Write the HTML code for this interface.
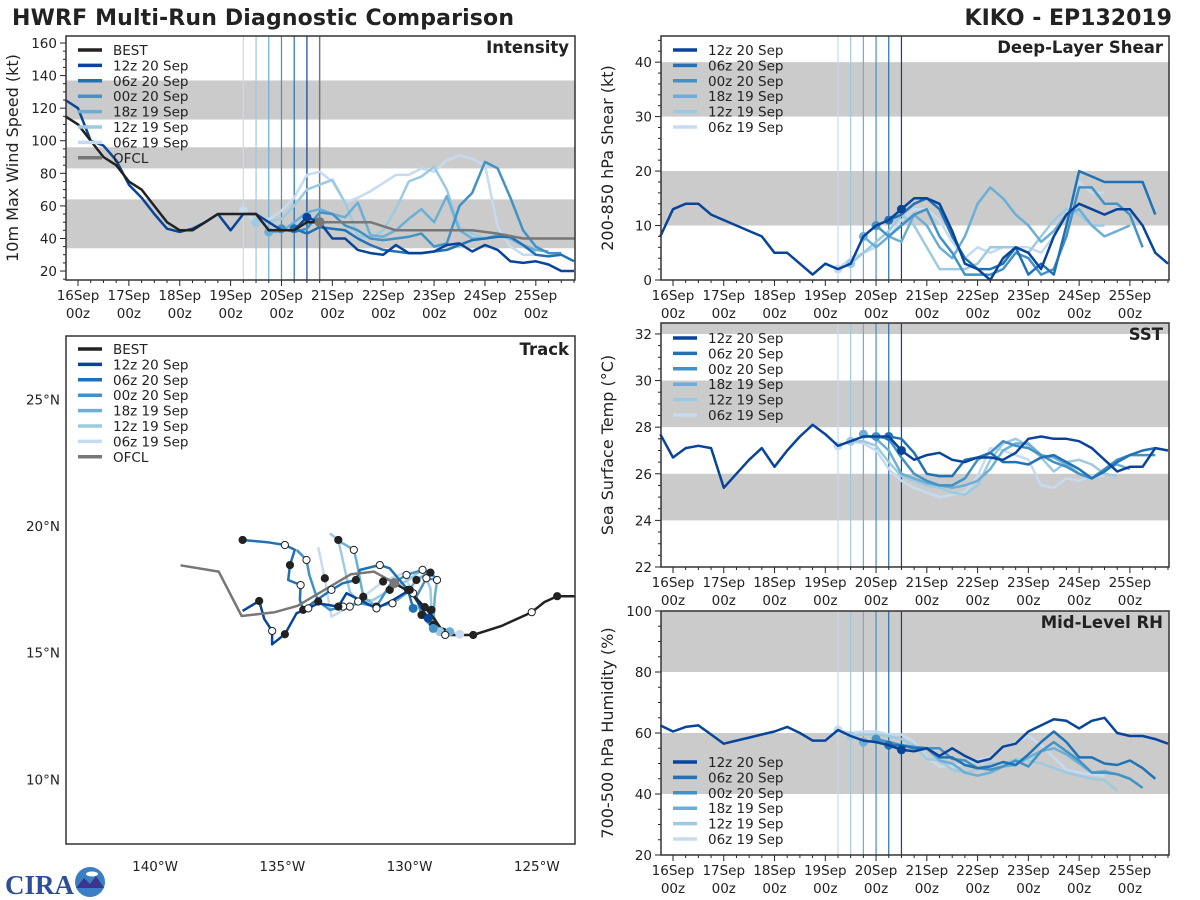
<!DOCTYPE html>
<html><head><meta charset="utf-8"><title>HWRF Multi-Run Diagnostic Comparison</title>
<style>
html,body{margin:0;padding:0;background:#fff;}
svg{display:block;font-family:"DejaVu Sans","Liberation Sans",sans-serif;}
</style></head>
<body>
<svg id="fig" xmlns="http://www.w3.org/2000/svg" width="1200" height="900" viewBox="0 0 1200 900">
<rect x="0" y="0" width="1200" height="900" fill="#fff"/>
<text x="12" y="25" font-size="22" font-weight="bold" fill="#222" textLength="502">HWRF Multi-Run Diagnostic Comparison</text>
<text x="1172" y="25" font-size="22" font-weight="bold" fill="#222" text-anchor="end">KIKO - EP132019</text>
<g>
<text x="5" y="894" font-size="27" font-weight="bold" fill="#2d4f9a" font-family="Liberation Serif, serif">CIRA</text>
<circle cx="90" cy="882" r="15" fill="#3a7fc4"/>
<path d="M76 888 L84 878 L90 884 L96 876 L104 888 Z" fill="#3b3590"/>
<ellipse cx="92" cy="874" rx="6" ry="2.5" fill="#fff"/>
</g>
</svg>
<script>
// ---------- shared data ----------
const runNames = ['12z 20 Sep','06z 20 Sep','00z 20 Sep','18z 19 Sep','12z 19 Sep','06z 19 Sep'];
const runColors = ['#08459a','#2171b5','#4292c6','#6baed6','#9ecae1','#c6dbef'];
const runInit = [4.5,4.25,4.0,3.75,3.5,3.25];
const runStart = [-0.25,4.25,4.0,3.75,3.5,3.25];
const dayTickLabels = ['16Sep','17Sep','18Sep','19Sep','20Sep','21Sep','22Sep','23Sep','24Sep','25Sep'];

// Intensity (kt), 6-hourly from runStart
const intRun0 = [125,120,100,97,88,73,65,55,46,44,46,50,55,45,55,55,50,45,45,53,50,40,40,33,31,30,36,31,31,32,36,37,32,36,33,26,25,26,24,20,20];
const intRun1 = [46,43,47,46,45,40,36,33,32,31,31,32,33,36,39,40,41,41,36,30,29,30,26];
const intRun2 = [46,44,46,56,55,48,45,40,39,40,41,43,35,37,60,68,87,83,65,45,35,31,31];
const intRun3 = [44,44,50,56,58,55,53,62,42,41,45,52,58,50,66,45,40,40,42,40,36,33,32];
const intRun4 = [50,50,52,60,70,73,76,62,42,40,45,58,75,78,84,70,47,43,40,42,40,35,32];
const intRun5 = [57,50,52,57,65,79,81,75,62,65,69,74,79,79,83,81,88,91,89,85,47,35,30,30];
const intBest = [115,110,100,90,85,75,70,60,50,45,45,50,55,55,55,55,45,45,45,50,50];
const ofclDays = [4.75,5.75,6.25,7.75,8.25,8.75,9.77];
const ofclVals = [50,50,45,45,43,40,40];

// Shear (kt)
const shrRun0 = [8,13,14,14,12,11,10,9,8,5,5,3,1,3,2,3,8,10,11,13,15,15,14,9,3,2,0,4,6,5,2,8,12,14,13,12,13,13,10,5,3];
const shrRun1 = [11,12,14,15,13,8,4,2,2,3,6,1,3,1,10,20,19,18,18,18,18,12];
const shrRun2 = [10,8,10,12,13,8,5,1,1,1,2,5,4,1,2,8,17,17,14,14,12,6];
const shrRun3 = [8,6,8,7,12,10,6,4,8,14,17,15,12,10,7,9,12,13,10,8,9,10];
const shrRun4 = [3,5,7,9,12,10,6,2,2,2,3,6,6,6,5,8,11,13,12,10,10];
const shrRun5 = [2,4,5,6,8,11,13,13,11,7,4,6,5,6,6,6,5,8,12,18,16,16];

// SST (C)
const sstRun0 = [27.7,26.7,27.1,27.2,27.1,25.4,26.0,26.6,27.1,26.3,27.0,27.6,28.1,27.7,27.2,27.4,27.6,27.6,27.6,27.0,26.6,26.8,26.9,26.6,26.5,26.7,26.7,26.6,26.9,27.5,27.6,27.5,27.5,27.4,27.1,26.6,26.1,26.3,26.3,27.1,27.0];
const sstRun1 = [27.6,27.5,26.9,26.0,25.9,25.9,26.6,26.7,26.9,26.5,26.5,26.4,26.7,26.8,26.5,26.2,25.8,26.1,26.5,26.8,27.0,27.1];
const sstRun2 = [27.6,27.5,26.7,26.0,25.7,25.5,25.5,25.8,26.6,26.9,27.4,27.2,27.1,26.8,26.5,26.3,26.0,25.8,26.2,26.6,26.8,26.8,26.8];
const sstRun3 = [27.7,27.5,27.0,26.0,25.8,25.6,25.5,25.4,25.5,25.7,26.2,27.0,27.3,27.3,26.8,26.7,26.4,26.0,25.8,26.2,26.4,26.2];
const sstRun4 = [27.4,27.4,27.2,26.5,25.9,25.7,25.5,25.4,25.2,25.1,25.5,26.6,27.3,27.5,27.2,26.7,26.1,26.5,26.6,26.4,26.0,25.9];
const sstRun5 = [27.2,27.4,27.3,27.0,26.2,25.7,25.4,25.2,25.0,25.1,25.2,25.9,27.1,27.0,26.8,26.6,25.5,25.4,25.8,25.7,25.9,25.9];

// Mid-level RH (%)
const rhRun0 = [62.5,60.5,62,62.5,59.5,56.5,57.5,58.5,59.5,60.5,62,60,57.5,57.5,61,59,57.5,57,56,54.5,54,55,52.5,55,52.5,50.5,51.5,55.5,56.5,60.5,62.5,64.5,64,61.5,64,65,60,59,59,58,56.5];
const rhRun1 = [56,56,55,55,52,52,49.5,48.5,49,50.5,49.5,53,57,60.5,57,52,52,50,49.5,51,48.5,45];
const rhRun2 = [58,57,56,55.5,55,55,51.5,51,48.5,48,49,51,49,54,57,54,51,47,47,46.5,45,42];
const rhRun3 = [57,57.5,57,56,55,55,51,50,47,46,47,49,49.5,52,54,55,53,50,47,47.5,46.5,45];
const rhRun4 = [59,59.5,59.5,59,58,56,51.5,51,48,47,48,50,50,51.5,51,50,48.5,47,46,45,44.5,41];
const rhRun5 = [61,60,60.5,60.5,59.5,59.5,57,52,49,49,50,51,52,55,57,59,56,52,48,47,46.5,46];

// Tracks (lon deg E negative, lat deg N)
const bestLon = [-123.5,-124.2,-124.7,-125.2,-126.4,-127.5,-128.0,-128.6,-129.0,-129.4,-130.0,-130.6];
const bestLat = [17.23,17.23,17.0,16.6,16.05,15.7,15.7,15.7,16.3,16.8,17.4,17.75];
const trkLon0 = [-129.27,-129.99,-130.64,-131.30,-132.48,-132.80,-133.59,-133.98,-134.44,-134.90,-135.40,-135.40,-135.71,-135.91,-136.56];
const trkLat0 = [16.36,17.48,17.08,16.75,17.35,16.82,16.95,16.75,16.56,15.73,15.33,15.86,16.33,17.04,16.65];
const trkLon1 = [-129.86,-130.06,-130.78,-131.17,-131.95,-132.11,-132.63,-133.07,-133.65,-134.18,-134.31,-134.28,-134.77,-134.70,-134.51,-134.90,-135.59,-136.56];
const trkLat1 = [16.75,17.48,18.33,18.46,18.27,17.87,17.74,17.48,17.08,16.69,17.08,17.67,17.87,18.46,19.06,19.25,19.36,19.45];
const trkLon2 = [-129.07,-129.53,-129.73,-129.34,-128.92,-129.18,-129.49,-130.12,-130.78,-131.30,-131.95,-132.61,-133.13,-133.59,-133.94,-134.05,-134.44];
const trkLat2 = [15.96,16.49,17.21,17.94,17.87,18.16,18.27,18.07,17.67,16.82,16.95,16.82,16.69,17.02,18.07,18.66,19.06];
const trkLon3 = [-128.42,-129.07,-129.01,-128.92,-129.20,-129.73,-130.12,-130.67,-131.30,-131.82,-132.08,-132.19,-132.80];
const trkLat3 = [15.83,16.10,17.21,17.87,18.20,17.87,17.35,16.95,16.82,17.21,18.60,19.06,19.42];
const trkLon4 = [-128.81,-129.14,-129.18,-129.49,-130.06,-130.78,-131.43,-132.02,-132.35,-132.80,-133.13];
const trkLat4 = [15.83,16.69,17.54,18.27,17.87,17.48,17.08,17.02,17.41,19.45,19.71];
const trkLon5 = [-128.03,-128.68,-129.34,-129.86,-130.25,-131.04,-131.82,-132.35,-133.07,-133.33,-133.59];
const trkLat5 = [15.73,15.83,16.69,17.35,18.14,17.81,17.21,16.82,16.42,17.94,19.16];
const ofclLon = [-130.6,-131.4,-132.3,-134.4,-135.3,-136.6,-137.5,-139.0];
const ofclLat = [17.75,18.2,18.1,16.85,16.6,16.45,18.2,18.45];
const trkLonTicks = [-140,-135,-130,-125];
const trkLonLabels = ['140°W','135°W','130°W','125°W'];
const trkLatTicks = [10,15,20,25];
const trkLatLabels = ['10°N','15°N','20°N','25°N'];

// ---------- drawing ----------
const NS='http://www.w3.org/2000/svg';
const svg=document.getElementById('fig');
function mk(tag,attrs,parent){const e=document.createElementNS(NS,tag);for(const k in attrs)e.setAttribute(k,attrs[k]);(parent||svg).appendChild(e);return e;}
const XMIN=-0.236, XMAX=9.77;

function timePanel(p){
  const g=mk('g',{});
  
  
  const sx=d=>p.x0+(d-XMIN)/(XMAX-XMIN)*(p.x1-p.x0);
  const sy=v=>p.y1-(v-p.ymin)/(p.ymax-p.ymin)*(p.y1-p.y0);
  p.bands.forEach(b=>{
    const r=mk('rect',{x:p.x0,y:sy(b[1]),width:p.x1-p.x0,height:sy(b[0])-sy(b[1]),fill:'#cbcbcb'},g);
    
    
  });
  for(let i=5;i>=0;i--){
    const l=mk('line',{x1:sx(runInit[i]),x2:sx(runInit[i]),y1:p.y0,y2:p.y1,stroke:runColors[i],'stroke-width':1.2},g);
    
    
  }
  if(p.ofcl){
    const l=mk('line',{x1:sx(4.75),x2:sx(4.75),y1:p.y0,y2:p.y1,stroke:'#777','stroke-width':1.5},g);
    
    
  }
  for(let d=-0.25;d<=XMAX;d+=0.25){
    if(d<XMIN)continue;
    const major=Math.abs(d-Math.round(d))<1e-6;
    mk('line',{x1:sx(d),x2:sx(d),y1:p.y1,y2:p.y1+(major?6:3),stroke:'#222','stroke-width':1},g);
    if(major){
      const t=mk('text',{x:sx(d),y:p.y1+20,'font-size':13.5,'text-anchor':'middle',fill:'#222'},g);
      t.textContent=dayTickLabels[Math.round(d)];
      
      
      const t2=mk('text',{x:sx(d),y:p.y1+38,'font-size':13.5,'text-anchor':'middle',fill:'#222'},g);
      t2.textContent='00z';
      
      
    }
  }
  const nStart=Math.ceil(p.ymin/p.minor-1e-9), nEnd=Math.floor(p.ymax/p.minor+1e-9);
  for(let n=nStart;n<=nEnd;n++){
    const v=n*p.minor;
    const q=(v-p.tick0)/p.major;
    const major=Math.abs(q-Math.round(q))<1e-6 && v>=p.tick0-1e-9;
    mk('line',{x1:p.x0,x2:p.x0-(major?6:3),y1:sy(v),y2:sy(v),stroke:'#222','stroke-width':1},g);
    if(major){
      const t=mk('text',{x:p.x0-9,y:sy(v)+5,'font-size':13.5,'text-anchor':'end',fill:'#222'},g);
      t.textContent=String(Math.round(v*10)/10);
      
      
    }
  }
  const yl=mk('text',{x:0,y:0,'font-size':16,'text-anchor':'middle',fill:'#222',transform:`translate(${p.x0-48},${(p.y0+p.y1)/2}) rotate(-90)`},g);
  yl.textContent=p.ylabel;
  
  
  for(let i=5;i>=0;i--){
    const vals=p.series[i];
    const pts=vals.map((v,k)=>sx(runStart[i]+k*0.25).toFixed(1)+','+sy(v).toFixed(1)).join(' ');
    const pl=mk('polyline',{points:pts,fill:'none',stroke:runColors[i],'stroke-width':2.5,'stroke-linejoin':'round'},g);
    
    
    const k=Math.round((runInit[i]-runStart[i])/0.25);
    const c=mk('circle',{cx:sx(runInit[i]),cy:sy(vals[k]),r:4.5,fill:runColors[i]},g);
    
    
  }
  if(p.best){
    const pts=p.best.map((v,k)=>sx(-0.25+k*0.25).toFixed(1)+','+sy(v).toFixed(1)).join(' ');
    const pl=mk('polyline',{points:pts,fill:'none',stroke:'#222','stroke-width':2.5},g);
    
    
  }
  if(p.ofcl){
    const pts=ofclDays.map((d,k)=>sx(d).toFixed(1)+','+sy(ofclVals[k]).toFixed(1)).join(' ');
    const pl=mk('polyline',{points:pts,fill:'none',stroke:'#777','stroke-width':2.5},g);
    
    
    const c=mk('circle',{cx:sx(ofclDays[0]),cy:sy(ofclVals[0]),r:5,fill:'#777'},g);
    
    
  }
  const fr=mk('rect',{x:p.x0,y:p.y0,width:p.x1-p.x0,height:p.y1-p.y0,fill:'none',stroke:'#333','stroke-width':1.5},g);
  
  
  const tt=mk('text',{x:p.x1-6,y:p.y0+17,'font-size':16.5,'font-weight':'bold','text-anchor':'end',fill:'#222'},g);
  tt.textContent=p.title;
  
  
  legend(g,p.x0+12,p.legY,p.best?true:false,p.ofcl?true:false);
}

function legend(g,x,y,best,ofcl){
  const names=[],cols=[];
  if(best){names.push('BEST');cols.push('#222');}
  runNames.forEach((n,i)=>{names.push(n);cols.push(runColors[i]);});
  if(ofcl){names.push('OFCL');cols.push('#777');}
  const lg=mk('g',{},g);
  
  
  names.forEach((n,i)=>{
    const yy=y+i*15.4;
    const l=mk('line',{x1:x,x2:x+24,y1:yy,y2:yy,stroke:cols[i],'stroke-width':3.5},lg);
    
    
    const t=mk('text',{x:x+35,y:yy+5,'font-size':13.5,fill:'#222'},lg);
    t.textContent=n;
    
    
  });
}

timePanel({name:'intensity-panel',title:'Intensity',x0:66,x1:575,y0:36,y1:280,ymin:14.5,ymax:164.3,tick0:20,major:20,minor:5,
  ylabel:'10m Max Wind Speed (kt)',bands:[[34,64],[83,96],[113,137]],
  series:[intRun0,intRun1,intRun2,intRun3,intRun4,intRun5],best:intBest,ofcl:true,legY:50});
timePanel({name:'shear-panel',title:'Deep-Layer Shear',x0:661,x1:1169,y0:36,y1:280,ymin:0,ymax:44.8,tick0:0,major:10,minor:2,
  ylabel:'200-850 hPa Shear (kt)',bands:[[10,20],[30,40]],
  series:[shrRun0,shrRun1,shrRun2,shrRun3,shrRun4,shrRun5],legY:50});
timePanel({name:'sst-panel',title:'SST',x0:661,x1:1169,y0:323,y1:567,ymin:22,ymax:32.47,tick0:22,major:2,minor:0.5,
  ylabel:'Sea Surface Temp (°C)',bands:[[24,26],[28,30],[32,32.47]],
  series:[sstRun0,sstRun1,sstRun2,sstRun3,sstRun4,sstRun5],legY:338});
timePanel({name:'rh-panel',title:'Mid-Level RH',x0:661,x1:1169,y0:611,y1:855,ymin:20,ymax:100,tick0:20,major:20,minor:5,
  ylabel:'700-500 hPa Humidity (%)',bands:[[40,60],[80,100]],
  series:[rhRun0,rhRun1,rhRun2,rhRun3,rhRun4,rhRun5],legY:762});

(function(){
  const x0=66,x1=575,y0=336,y1=844,lonMin=-143.5,lonMax=-123.5,latMin=7.45,latMax=27.5;
  const sx=l=>x0+(l-lonMin)/(lonMax-lonMin)*(x1-x0);
  const sy=l=>y1-(l-latMin)/(latMax-latMin)*(y1-y0);
  const g=mk('g',{});
  
  
  const cp=mk('clipPath',{id:'trkclip'},g);
  mk('rect',{x:x0,y:y0,width:x1-x0,height:y1-y0},cp);
  const inner=mk('g',{'clip-path':'url(#trkclip)'},g);
  const tl=[[trkLon5,trkLat5],[trkLon4,trkLat4],[trkLon3,trkLat3],[trkLon2,trkLat2],[trkLon1,trkLat1],[trkLon0,trkLat0]];
  const cols=[runColors[5],runColors[4],runColors[3],runColors[2],runColors[1],runColors[0]];
  function path(lon,lat,col,name){
    const pts=lon.map((l,k)=>sx(l).toFixed(1)+','+sy(lat[k]).toFixed(1)).join(' ');
    const pl=mk('polyline',{points:pts,fill:'none',stroke:col,'stroke-width':2.5,'stroke-linejoin':'round'},inner);
    
    
  }
  function markers(lon,lat,start){
    for(let k=start;k<lon.length;k+=2){
      const filled=((k-start)/2)%2===0;
      const c=mk('circle',{cx:sx(lon[k]),cy:sy(lat[k]),r:3.6,fill:filled?'#222':'#fff',stroke:'#222','stroke-width':1},inner);
      
      
    }
  }
  tl.forEach((t,i)=>path(t[0],t[1],cols[i],'track-'+runNames[5-i].replace(/ /g,'-').toLowerCase()));
  path(ofclLon,ofclLat,'#777','track-ofcl');
  path(bestLon,bestLat,'#222','track-best');
  tl.forEach((t,i)=>{
    const c=mk('circle',{cx:sx(t[0][0]),cy:sy(t[1][0]),r:4.5,fill:cols[i]},inner);
    
    
    markers(t[0],t[1],1);
  });
  markers(bestLon,bestLat,1);
  const oc=mk('circle',{cx:sx(ofclLon[0]),cy:sy(ofclLat[0]),r:5,fill:'#777'},inner);
  
  
  trkLonTicks.forEach((l,i)=>{
    const t=mk('text',{x:sx(l),y:y1+27,'font-size':13.5,'text-anchor':'middle',fill:'#222'},g);
    t.textContent=trkLonLabels[i];
    
    
  });
  trkLatTicks.forEach((l,i)=>{
    const t=mk('text',{x:x0-6,y:sy(l)+5,'font-size':13.5,'text-anchor':'end',fill:'#222'},g);
    t.textContent=trkLatLabels[i];
    
    
  });
  const fr=mk('rect',{x:x0,y:y0,width:x1-x0,height:y1-y0,fill:'none',stroke:'#333','stroke-width':1.5},g);
  
  
  const tt=mk('text',{x:x1-6,y:y0+19,'font-size':16.5,'font-weight':'bold','text-anchor':'end',fill:'#222'},g);
  tt.textContent='Track';
  
  
  legend(g,x0+12,349,true,true);
})();
</script>
</body></html>
